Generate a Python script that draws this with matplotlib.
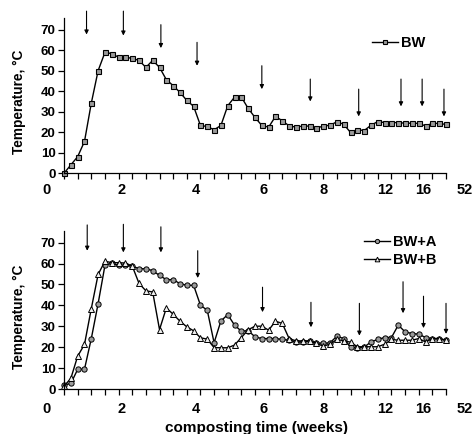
# -*- coding: utf-8 -*-
"""
Composting temperature profiles for BW, BW+A and BW+B piles.
"""

import matplotlib
matplotlib.use('Agg')
import matplotlib.pyplot as plt

plt.rcParams['font.family'] = ['Liberation Sans', 'DejaVu Sans']
plt.rcParams['font.weight'] = 'bold'

# sampling points (equally spaced, categorical index)
n_points = 57
sample_idx = list(range(n_points))

bw = [0, 4.1, 8.1, 15.5, 34.2, 50, 58.9, 58.3, 56.5, 56.5,
      56, 55, 51.6, 55, 51.6, 45.6, 42.7, 39.4, 35.5, 32.6,
      23.3, 22.8, 21.2, 23.3, 32.9, 37.1, 37.1, 31.6, 27.2, 23.3,
      22.5, 27.7, 25.6, 23.1, 22.5, 23, 23, 22, 23, 23.4,
      25.1, 23.9, 19.9, 21.3, 20.8, 23.4, 25.2, 24.7, 24.7, 24.7,
      24.4, 24.4, 24.3, 23.1, 24.3, 24.3, 23.8]

bw_a = [2.0, 2.8, 9.5, 9.6, 24.2, 40.9, 59.1, 60.2, 59.1, 59.1,
        58.8, 57.5, 57.5, 56.6, 54.3, 52.3, 52.3, 50.4, 49.6, 49.6,
        40.1, 37.7, 22.2, 32.6, 35.6, 30.6, 27.7, 28.0, 25.0, 24.2,
        24.2, 24.2, 23.8, 23.4, 22.6, 22.6, 23.1, 22.2, 21.9, 22.2,
        25.3, 24.2, 20.3, 19.8, 20.1, 22.6, 23.8, 24.7, 24.7, 30.6,
        27.4, 26.6, 26.3, 24.7, 24.2, 24.2, 23.4]

bw_b = [1.5, 5.2, 15.8, 21.4, 38.5, 54.8, 61.1, 60.4, 60.4, 60.2,
        58.8, 50.5, 47.0, 46.4, 28.5, 38.8, 35.8, 32.5, 29.8, 27.9,
        24.6, 23.9, 19.9, 19.8, 19.8, 21.1, 24.7, 28.4, 30.1, 30.1,
        28.2, 32.5, 31.4, 24.2, 23.1, 23.1, 23.1, 21.9, 20.6, 21.5,
        23.8, 23.1, 22.5, 20.3, 20.3, 20.3, 20.3, 21.5, 23.8, 23.4,
        23.4, 23.4, 24.2, 22.6, 24.2, 24.2, 23.4]

# week labels on the time axis (placed at sample index)
week_labels = ['0', '2', '4', '6', '8', '12', '16', '52']
week_pos = [-2.5, 8.5, 19.4, 29.2, 38.0, 47.1, 52.7, 58.8]

# turning events (arrows): index, tail and head temperature
arrows_top_x = [3.3, 8.7, 14.2, 19.5, 29.0, 36.1, 43.2, 49.4, 52.5, 55.7]
arrows_top_tail = [79, 79, 72.4, 63.8, 52.4, 45.9, 41, 45.9, 45.9, 41]
arrows_top_head = [67.6, 67.1, 61, 52.4, 41, 35, 27.7, 32.6, 32.6, 27.7]

arrows_bot_x = [3.4, 8.7, 14.2, 19.6, 29.1, 36.2, 43.3, 49.7, 52.7, 56.0]
arrows_bot_tail = [78.4, 78.7, 77.5, 66.1, 48.7, 41.5, 41, 51.3, 44.4, 41]
arrows_bot_head = [66.1, 65.3, 65.3, 53.1, 36.8, 29.6, 25.6, 36.3, 29.2, 26.4]

y_ticks = [0, 10, 20, 30, 40, 50, 60, 70]

marker_face = '#9a9a9a'


def style_axis(ax, label_offset):
    ax.set_xlim(0, n_points - 1)
    ax.set_ylim(0, 75.5)
    for side in ['top', 'right']:
        ax.spines[side].set_visible(False)
    ax.spines['left'].set_linewidth(0.9)
    ax.spines['bottom'].set_linewidth(0.9)
    ax.set_xticks(range(0, n_points, 2))
    ax.set_xticklabels([])
    ax.set_yticks(y_ticks)
    ax.set_yticklabels([str(t) for t in y_ticks], fontsize=9.5, fontweight='bold')
    ax.tick_params(axis='both', direction='out', length=4, width=0.9, pad=2)
    for lab, pos in zip(week_labels, week_pos):
        ax.annotate(lab, xy=(pos, 0), xycoords=('data', 'axes fraction'),
                    xytext=(0, -label_offset), textcoords='offset points',
                    ha='center', va='center', fontsize=10.5, fontweight='bold',
                    annotation_clip=False)
    ax.set_ylabel('Temperature, °C', fontsize=9.8, fontweight='bold')
    ax.yaxis.set_label_coords(-0.10, 0.46)


def draw_arrows(ax, xs, tails, heads):
    for x, t, h in zip(xs, tails, heads):
        ax.annotate('', xy=(x, h), xytext=(x, t),
                    arrowprops=dict(arrowstyle='-|>', color='black', lw=0.8,
                                    mutation_scale=6, shrinkA=0, shrinkB=0),
                    annotation_clip=False)


fig = plt.figure(figsize=(4.76, 4.34), dpi=100)
ax_top = fig.add_axes([0.1345, 0.6007, 0.8025, 0.3571])
ax_bot = fig.add_axes([0.1345, 0.1030, 0.8025, 0.3647])

# top panel: BW
ax_top.plot(sample_idx, bw, color='black', lw=1.0, marker='s', markersize=3.6,
            markerfacecolor=marker_face, markeredgecolor='black', markeredgewidth=0.8,
            clip_on=False, label='BW')
style_axis(ax_top, 12)
draw_arrows(ax_top, arrows_top_x, arrows_top_tail, arrows_top_head)
ax_top.legend(loc='upper left', bbox_to_anchor=(0.806, 0.885), frameon=False,
              borderpad=0, borderaxespad=0, handlelength=1.8, handletextpad=0.2,
              markerscale=0.8, prop={'size': 10.5, 'weight': 'bold'})

# bottom panel: BW+A and BW+B
ax_bot.plot(sample_idx, bw_a, color='black', lw=1.0, marker='o', markersize=3.8,
            markerfacecolor=marker_face, markeredgecolor='black', markeredgewidth=0.7,
            clip_on=False, label='BW+A')
ax_bot.plot(sample_idx, bw_b, color='black', lw=1.0, marker='^', markersize=4.2,
            markerfacecolor='#eeeeee', markeredgecolor='black', markeredgewidth=0.7,
            clip_on=False, label='BW+B')
style_axis(ax_bot, 14)
draw_arrows(ax_bot, arrows_bot_x, arrows_bot_tail, arrows_bot_head)
ax_bot.legend(loc='upper left', bbox_to_anchor=(0.785, 0.975), frameon=False,
              borderpad=0, borderaxespad=0, handlelength=1.8, handletextpad=0.2,
              labelspacing=0.3, markerscale=0.8, prop={'size': 10.5, 'weight': 'bold'})
ax_bot.text(0.505, -0.245, 'composting time (weeks)', transform=ax_bot.transAxes,
            ha='center', va='center', fontsize=11, fontweight='bold')

fig.savefig('out.png', dpi=100)
